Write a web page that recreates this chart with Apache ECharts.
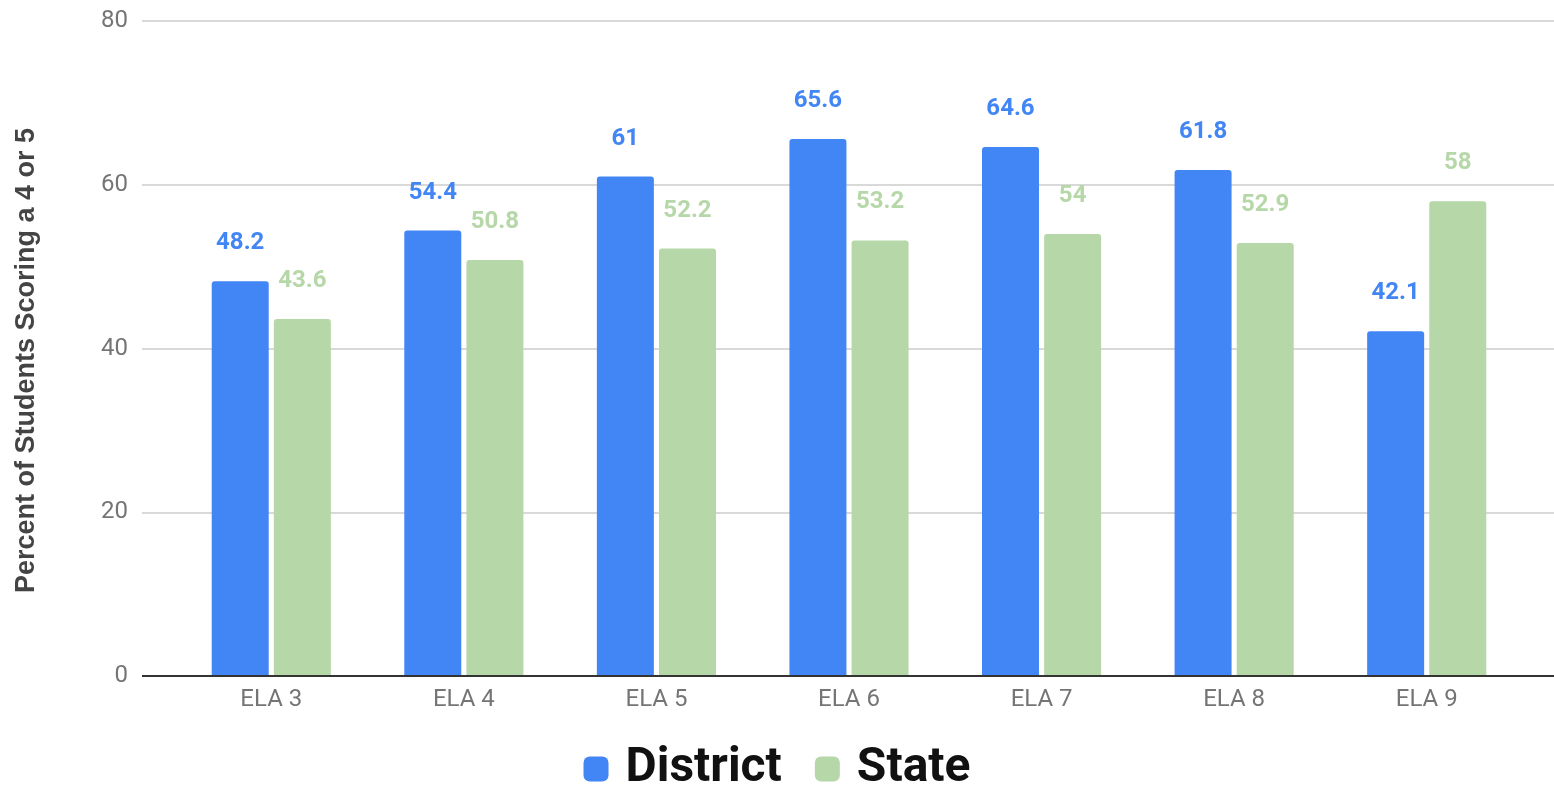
<!DOCTYPE html>
<html><head><meta charset="utf-8">
<script src="https://cdn.jsdelivr.net/npm/echarts@6/dist/echarts.min.js"></script>
<style>html,body{margin:0;padding:0;background:#fff}#c{width:1554px;height:785px}</style>
</head><body><div id="c"></div>
<script>
const categories = ['ELA 3','ELA 4','ELA 5','ELA 6','ELA 7','ELA 8','ELA 9'];
const district = [48.2, 54.4, 61, 65.6, 64.6, 61.8, 42.1];
const state = [43.6, 50.8, 52.2, 53.2, 54, 52.9, 58];
const yTicks = [0, 20, 40, 60, 80];

const chart = echarts.init(document.getElementById('c'));
const font = 'Roboto';
const lbl = (color) => ({show:true, position:'top', distance:26, color:color, fontSize:24, fontWeight:'bold', fontFamily:font});
chart.setOption({
  animation:false,
  textStyle:{fontFamily:font},
  legend:{top:740, left:'center', itemWidth:25, itemHeight:25, itemGap:33,
    icon:'roundRect',
    textStyle:{fontSize:48, fontWeight:'bold', color:'#111', fontFamily:font, padding:[0,0,0,12]},
    data:['District','State']},
  grid:[
    {left:142, right:0, top:21, bottom:109},
    {left:175, right:31, top:21, bottom:109}
  ],
  xAxis:[
    {type:'value', gridIndex:0, min:0, max:1, show:true, axisLabel:{show:false}, axisTick:{show:false}, splitLine:{show:false}, axisLine:{show:false}},
    {type:'category', gridIndex:1, data:categories, axisLine:{show:false}, axisTick:{show:false},
      axisLabel:{color:'#757575', fontSize:24, margin:12, fontFamily:font}}
  ],
  yAxis:[
    {type:'value', gridIndex:0, min:0, max:80, interval:20,
      name:'Percent of Students Scoring a 4 or 5', nameLocation:'middle', nameGap:102,
      nameTextStyle:{fontSize:27, fontWeight:'bold', color:'#444', fontFamily:'Liberation Sans', padding:[0,24,0,0]},
      axisLabel:{color:'#757575', fontSize:24, margin:14, fontFamily:font, formatter:(v)=> yTicks.includes(v)? String(v):''},
      axisLine:{show:false}, axisTick:{show:false},
      splitLine:{lineStyle:{color:'#cccccc', width:1.5}}},
    {type:'value', gridIndex:1, min:0, max:80, interval:20, show:false, splitLine:{show:false}}
  ],
  series:[
    {name:'District', type:'bar', xAxisIndex:1, yAxisIndex:1, data:district, barWidth:57, barGap:'9%',
      itemStyle:{color:'#4285F4', borderRadius:[3,3,0,0]}, label:lbl('#4285F4')},
    {name:'State', type:'bar', xAxisIndex:1, yAxisIndex:1, data:state, barWidth:57, barGap:'9%',
      itemStyle:{color:'#B6D7A8', borderRadius:[3,3,0,0]}, label:lbl('#B6D7A8')},
    {type:'line', xAxisIndex:0, yAxisIndex:0, data:[[0,0],[1,0]], symbol:'none', silent:true,
      lineStyle:{color:'#333', width:2}, z:5}
  ]
});
</script></body></html>
